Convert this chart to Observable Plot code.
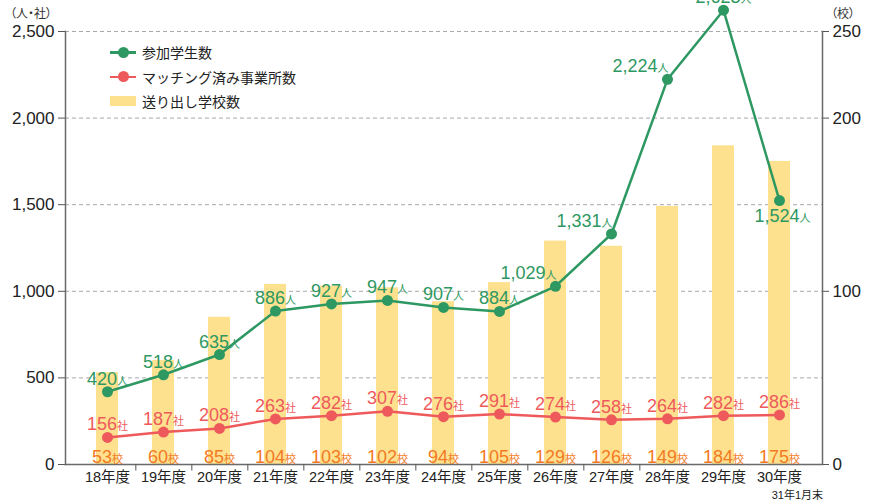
<!DOCTYPE html>
<html lang="ja">
<head>
<meta charset="utf-8">
<script src="https://cdn.jsdelivr.net/npm/d3@7"></script>
<script src="https://cdn.jsdelivr.net/npm/@observablehq/plot@0.6"></script>
<style>
  html, body { margin: 0; padding: 0; background: #fff; }
  #wrap { position: relative; width: 878px; height: 502px; overflow: hidden;
          font-family: "Liberation Sans", "Noto Sans CJK JP", sans-serif; }
  #wrap svg { position: absolute; left: 0; top: 0; }
  .note { position: absolute; color: #333; font-feature-settings: "palt"; white-space: nowrap; }
  .legend { position: absolute; left: 110px; top: 40px; font-size: 14px; color: #222; font-family: "Noto Sans CJK JP", sans-serif; }
  .legend .item { display: flex; align-items: center; height: 24.5px; }
  .legend .sw { position: relative; width: 26px; height: 12px; margin-right: 6px; }
  .legend .ln { position: absolute; left: 0; right: 0; top: 5px; height: 2.5px; }
  .legend .dt { position: absolute; left: 7.5px; top: 0.5px; width: 11px; height: 11px; border-radius: 50%; }
  .legend .bx { position: absolute; left: 0; right: 0; top: 1px; height: 10px; }
</style>
</head>
<body>
<div id="wrap"></div>
<script>
// ---- data ----
const years = ["18年度","19年度","20年度","21年度","22年度","23年度","24年度","25年度","26年度","27年度","28年度","29年度","30年度"];
const students = [420, 518, 635, 886, 927, 947, 907, 884, 1029, 1331, 2224, 2623, 1524];
const companies = [156, 187, 208, 263, 282, 307, 276, 291, 274, 258, 264, 282, 286];
const schools = [53, 60, 85, 104, 103, 102, 94, 105, 129, 126, 149, 184, 175];
const leftTicks = [0, 500, 1000, 1500, 2000, 2500];
const rightTicks = [0, 100, 200, 250];
const seriesNames = ["参加学生数", "マッチング済み事業所数", "送り出し学校数"];

// ---- styles ----
const GREEN = "#2e9862", RED = "#ee5a5c", YELLOW = "#fde18f", ORANGE = "#f37a24";
const FONT = "'Liberation Sans', 'Noto Sans CJK JP', sans-serif";
const W = 878, H = 502, mL = 65, mR = 56, mT = 31, mB = 38;
const pIn = 0.6, pOut = 0.48;
const step = (W - mL - mR) / (years.length - pIn + 2 * pOut);

const rows = years.map((year, i) => ({year, students: students[i], companies: companies[i], schools: schools[i], i}));
// right axis (校) shares the pixel range: 250校 ↔ 2,500
const ratio = 2500 / 250;
const fmt = d3.format(",");

// label placement for the green series
const leftPlaced = new Set(["26年度", "27年度", "28年度"]);
const belowPlaced = new Set(["30年度"]);

const svg = Plot.plot({
  width: W, height: H,
  marginTop: mT, marginBottom: mB, marginLeft: mL, marginRight: mR,
  style: {fontFamily: FONT, background: "transparent", overflow: "hidden"},
  x: {domain: years, paddingInner: pIn, paddingOuter: pOut},
  y: {domain: [0, 2500]},
  marks: [
    Plot.ruleY(leftTicks.filter(d => d > 0), {stroke: "#a9a9a9", strokeWidth: 1, strokeDasharray: "4,3"}),
    Plot.barY(rows, {x: "year", y: d => d.schools * ratio, fill: YELLOW}),
    Plot.frame({anchor: "left", stroke: "#6a6a6a", strokeWidth: 1.5}),
    Plot.frame({anchor: "right", stroke: "#6a6a6a", strokeWidth: 1.5}),
    Plot.ruleY([0], {stroke: "#6a6a6a", strokeWidth: 1.5}),
    Plot.axisY({anchor: "left", ticks: leftTicks, tickFormat: fmt, tickSize: 7, tickPadding: 4,
      fontSize: 17, color: "#222", label: null, stroke: "#555"}),
    Plot.axisY({anchor: "right", ticks: rightTicks.map(d => d * ratio), tickFormat: d => d / ratio, tickSize: 6, tickPadding: 4,
      fontSize: 17, color: "#222", label: null, stroke: "#555"}),
    Plot.axisX({anchor: "bottom", tickSize: 0, tickPadding: 7, fontSize: 14.5, color: "#222", label: null,
      fontFamily: "'Liberation Sans', 'Noto Sans CJK JP', sans-serif"}),
    Plot.ruleX(years.slice(0, 10), {x: d => d, y1: 0, y2: -38, dx: step / 2, stroke: "#555", strokeWidth: 1}),
    // companies line
    Plot.line(rows, {x: "year", y: "companies", stroke: RED, strokeWidth: 2.5}),
    Plot.dot(rows, {x: "year", y: "companies", r: 5.5, fill: RED}),
    // students line
    Plot.line(rows, {x: "year", y: "students", stroke: GREEN, strokeWidth: 2.5}),
    Plot.dot(rows, {x: "year", y: "students", r: 5.5, fill: GREEN}),
    // labels
    Plot.text(rows.filter(d => !leftPlaced.has(d.year) && !belowPlaced.has(d.year)),
      {x: "year", y: "students", text: d => fmt(d.students) + "人", fill: GREEN, fontSize: 18, lineAnchor: "bottom", dy: -7}),
    Plot.text(rows.filter(d => leftPlaced.has(d.year)),
      {x: "year", y: "students", text: d => fmt(d.students) + "人", fill: GREEN, fontSize: 18, lineAnchor: "bottom", textAnchor: "end", dy: -7, dx: 1}),
    Plot.text(rows.filter(d => belowPlaced.has(d.year)),
      {x: "year", y: "students", text: d => fmt(d.students) + "人", fill: GREEN, fontSize: 18, lineAnchor: "top", dy: 9, dx: 3}),
    Plot.text(rows, {x: "year", y: "companies", text: d => fmt(d.companies) + "社", fill: RED, fontSize: 18, lineAnchor: "bottom", dy: -7}),
    Plot.text(rows, {x: "year", y: 0, text: d => d.schools + "校", fill: ORANGE, fontSize: 18, lineAnchor: "bottom", dy: -2})
  ]
});

// smaller unit suffixes
svg.querySelectorAll("text, tspan").forEach(el => {
  if (el.children.length) return;
  const m = (el.textContent || "").match(/^([\d,]+)([人社校])$/);
  if (!m) return;
  el.textContent = m[1];
  const t = document.createElementNS("http://www.w3.org/2000/svg", "tspan");
  t.setAttribute("font-size", 11);
  t.setAttribute("font-family", "'Noto Sans CJK JP', sans-serif");
  t.textContent = m[2];
  el.appendChild(t);
});

const wrap = document.getElementById("wrap");
wrap.appendChild(svg);

// axis titles and notes
function note(text, css) {
  const d = document.createElement("div");
  d.className = "note";
  d.textContent = text;
  Object.assign(d.style, css);
  wrap.appendChild(d);
}
note("（人・社）", {left: "10px", top: "4px", fontSize: "12px", fontFamily: "'Noto Sans CJK JP', sans-serif"});
note("（校）", {left: "831px", top: "4px", fontSize: "12px", fontFamily: "'Noto Sans CJK JP', sans-serif"});
note("31年1月末", {right: "55px", top: "486px", fontSize: "11px", fontFamily: "'Liberation Sans', 'Noto Sans CJK JP', sans-serif", color: "#222"});

// legend
const legend = document.createElement("div");
legend.className = "legend";
const swatches = [
  `<span class="sw"><span class="ln" style="background:${GREEN}"></span><span class="dt" style="background:${GREEN}"></span></span>`,
  `<span class="sw"><span class="ln" style="background:${RED}"></span><span class="dt" style="background:${RED}"></span></span>`,
  `<span class="sw"><span class="bx" style="background:${YELLOW}"></span></span>`
];
seriesNames.forEach((name, i) => {
  const it = document.createElement("div");
  it.className = "item";
  it.innerHTML = swatches[i] + `<span>${name}</span>`;
  legend.appendChild(it);
});
wrap.appendChild(legend);
</script>
</body>
</html>
